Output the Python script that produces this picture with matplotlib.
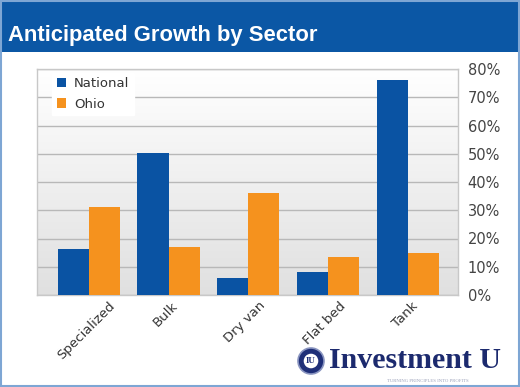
#!/usr/bin/env python3
"""Anticipated growth by sector: National vs Ohio grouped bars."""

import matplotlib

matplotlib.use("Agg")
import matplotlib.pyplot as plt
from matplotlib.patches import Rectangle, Circle
from matplotlib.ticker import PercentFormatter
from matplotlib.transforms import ScaledTranslation
import numpy as np

sectors = ["Specialized", "Bulk", "Dry van", "Flat bed", "Tank"]
national = [16.3, 50.2, 5.9, 8.0, 76.1]
ohio = [31.0, 17.1, 36.0, 13.6, 14.8]
yticks = [0, 10, 20, 30, 40, 50, 60, 70, 80]

BLUE = "#0a53a3"
ORANGE = "#f5921e"
TITLE_BLUE = "#0b57a5"
W, H = 520, 387

fig = plt.figure(figsize=(W / 100, H / 100), dpi=100)
fig.patch.set_facecolor("white")

# title bar
fig.add_artist(Rectangle((0, 1 - 52 / H), 1, 52 / H, transform=fig.transFigure,
                         facecolor=TITLE_BLUE, edgecolor="none"))
fig.text(8 / W, 1 - 36 / H, "Anticipated Growth by Sector", color="white",
         fontsize=15.8, fontweight="bold", family="Liberation Sans", va="center")
# outer frame
fig.add_artist(Rectangle((0.001, 0.002), 0.997, 0.996, transform=fig.transFigure,
                         facecolor="none", edgecolor="#7ea6d4", lw=1.5))

ax = fig.add_axes([37 / W, 1 - 295 / H, 421 / W, 226 / H])
x = np.arange(len(sectors))
bw = 0.39
ax.set_xlim(-0.65, 4.63)
ax.set_ylim(0, 80)

# soft vertical gradient behind the bars (white on top, grey at the bottom)
grad = np.linspace(0, 1, 256).reshape(-1, 1)
ax.imshow(grad, extent=(-0.65, 4.63, 0, 80), aspect="auto", origin="upper",
          cmap=matplotlib.colors.LinearSegmentedColormap.from_list(
              "bg", ["#ffffff", "#e0e0e0"]), zorder=0)

ax.bar(x - bw / 2, national, bw, color=BLUE, label="National", zorder=3)
ax.bar(x + bw / 2, ohio, bw, color=ORANGE, label="Ohio", zorder=3)

ax.set_yticks(yticks)
ax.yaxis.set_major_formatter(PercentFormatter(decimals=0))
ax.yaxis.tick_right()
ax.tick_params(axis="y", length=0, pad=7, labelsize=10.5, labelcolor="#444444")
ax.grid(axis="y", color="#b8b8b8", lw=1.0, zorder=1)
ax.set_axisbelow(True)

# rotated labels centred under each group, hanging from the axis
ax.set_xticks(x)
ax.set_xticklabels(sectors, rotation=45, ha="center", va="top",
                   fontsize=9.5, color="#333333")
ax.tick_params(axis="x", length=0, pad=3)
offset = ScaledTranslation(-0.03, 0, fig.dpi_scale_trans)
for lbl in ax.get_xticklabels():
    lbl.set_transform(lbl.get_transform() + offset)

for sp in ax.spines.values():
    sp.set_color("#c8c8c8")
    sp.set_linewidth(1.0)

leg = ax.legend(loc="upper left", bbox_to_anchor=(0.03, 0.995), frameon=True,
                fontsize=9.5, handlelength=0.7, handleheight=0.7, handletextpad=0.6,
                labelspacing=0.55, borderpad=0.35, borderaxespad=0.2, fancybox=False)
leg.get_frame().set_facecolor("white")
leg.get_frame().set_edgecolor("white")
leg.get_frame().set_alpha(1)
leg.set_zorder(5)
for t in leg.get_texts():
    t.set_color("#333333")

# Investment U logo
fig.add_artist(Circle((3.11, 0.26), 0.13, transform=fig.dpi_scale_trans,
                      facecolor="#1f2f78", edgecolor="#8a95c0", lw=1.2))
fig.add_artist(Circle((3.11, 0.26), 0.08, transform=fig.dpi_scale_trans,
                      facecolor="white", edgecolor="#1f2f78", lw=1))
fig.text(3.11 / 5.2, 0.26 / 3.87, "IU", color="#1f2f78", fontsize=6.5,
         fontweight="bold", family="Liberation Serif", ha="center", va="center")
fig.text(329 / W, 1 - 361 / H, "Investment U", color="#1c2a6e", fontsize=21.5,
         fontweight="bold", family="Liberation Serif", va="center")
fig.text(428 / W, 1 - 381 / H, "TURNING PRINCIPLES INTO PROFITS", color="#9aa0b8",
         fontsize=3.4, family="Liberation Serif", ha="center", va="center")

fig.savefig("out.png", dpi=100)
